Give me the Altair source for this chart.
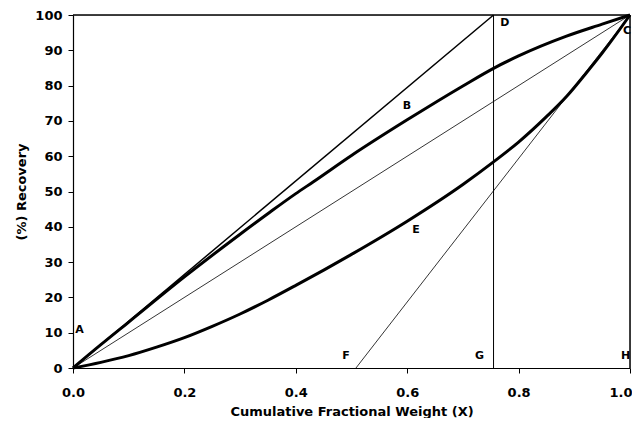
import altair as alt
import pandas as pd

# Curve B (upper, concave)
b_x = [0.0, 0.05, 0.1, 0.2, 0.3, 0.354, 0.4, 0.431, 0.5, 0.6, 0.7, 0.755, 0.8, 0.886, 0.95, 1.0]
b_y = [0.0, 6.6, 13.0, 25.8, 37.9, 44.2, 49.4, 52.7, 60.2, 70.3, 79.9, 84.9, 88.4, 94.0, 97.4, 100.0]

# Curve E (lower, convex)
e_x = [0.0, 0.05, 0.1, 0.15, 0.2, 0.25, 0.3, 0.35, 0.4, 0.5, 0.6, 0.7, 0.755, 0.8, 0.85, 0.886, 0.92, 0.95, 1.0]
e_y = [0.0, 1.6, 3.5, 5.9, 8.6, 11.8, 15.3, 19.2, 23.4, 32.2, 41.6, 52.0, 58.4, 64.0, 71.2, 76.9, 83.3, 89.2, 100.0]

# Straight construction lines: name, x pair, y pair, width
seg_names = ["AD", "DG", "AC", "FC", "HC", "top"]
seg_x = [[0.0, 0.755], [0.755, 0.755], [0.0, 1.0], [0.508, 1.0], [1.0, 1.0], [0.0, 1.0]]
seg_y = [[0.0, 100.0], [0.0, 100.0], [0.0, 100.0], [0.0, 100.0], [0.0, 100.0], [100.0, 100.0]]
seg_w = [1.5, 1.0, 0.8, 0.8, 1.5, 1.5]

# Point labels
lab_text = ["A", "B", "C", "D", "E", "F", "G", "H"]
lab_x = [0.004, 0.592, 0.9874, 0.767, 0.609, 0.4835, 0.7217, 0.9838]
lab_y = [10.7, 74.2, 95.5, 97.8, 39.2, 3.4, 3.4, 3.4]

rows = []
for i, (x, y) in enumerate(zip(b_x, b_y)):
    rows.append({"series": "B", "x": x, "y": y, "o": i, "w": 3.0})
for i, (x, y) in enumerate(zip(e_x, e_y)):
    rows.append({"series": "E", "x": x, "y": y, "o": i, "w": 3.0})
for n, xs, ys, w in zip(seg_names, seg_x, seg_y, seg_w):
    for i in range(2):
        rows.append({"series": n, "x": xs[i], "y": ys[i], "o": i, "w": w})
df = pd.DataFrame(rows)
labels = pd.DataFrame({"t": lab_text, "x": lab_x, "y": lab_y})

FONT = "DejaVu Sans"

xscale = alt.Scale(domain=[0, 1], nice=False, zero=False)
yscale = alt.Scale(domain=[0, 100], nice=False)

common = dict(grid=False, tickSize=5, domainColor="black", tickColor="black",
              labelColor="black", titleColor="black", labelFont=FONT, titleFont=FONT,
              labelFontSize=13, titleFontSize=13, labelFontWeight="bold",
              titleFontWeight="bold", labelFlush=False, labelOverlap=False,
              domainWidth=1.2, tickWidth=1)

xaxis = alt.Axis(title="Cumulative Fractional Weight (X)", values=[0, 0.2, 0.4, 0.6, 0.8, 1.0],
                 format=".1f", labelPadding=13, titleY=47, titleBaseline="alphabetic",
                 labelAlign=alt.expr("datum.value >= 1 ? 'right' : 'center'"),
                 labelOffset=alt.expr("datum.value >= 1 ? 2 : 0"),
                 **common)
yaxis = alt.Axis(title="(%) Recovery", values=[0, 10, 20, 30, 40, 50, 60, 70, 80, 90, 100],
                 labelPadding=6, titleX=-48, titleBaseline="alphabetic", **common)

lines = alt.Chart(df).mark_line(color="black", clip=False, interpolate="monotone").encode(
    x=alt.X("x:Q", scale=xscale, axis=xaxis),
    y=alt.Y("y:Q", scale=yscale, axis=yaxis),
    detail="series:N",
    order="o:Q",
    strokeWidth=alt.StrokeWidth("w:Q", scale=None, legend=None),
)

text = alt.Chart(labels).mark_text(font=FONT, fontSize=11, fontWeight="bold", color="black",
                                   align="left", baseline="middle", clip=False).encode(
    x=alt.X("x:Q", scale=xscale, axis=xaxis),
    y=alt.Y("y:Q", scale=yscale, axis=yaxis),
    text="t:N",
)

chart = (lines + text).properties(
    width=557, height=353,
    autosize=alt.AutoSizeParams(type="none"),
    padding={"left": 65, "top": 7, "right": 2, "bottom": 50},
).configure_view(stroke=None).configure(background="white")

chart.save("out.html", embed_options={"renderer": "svg", "actions": False})
